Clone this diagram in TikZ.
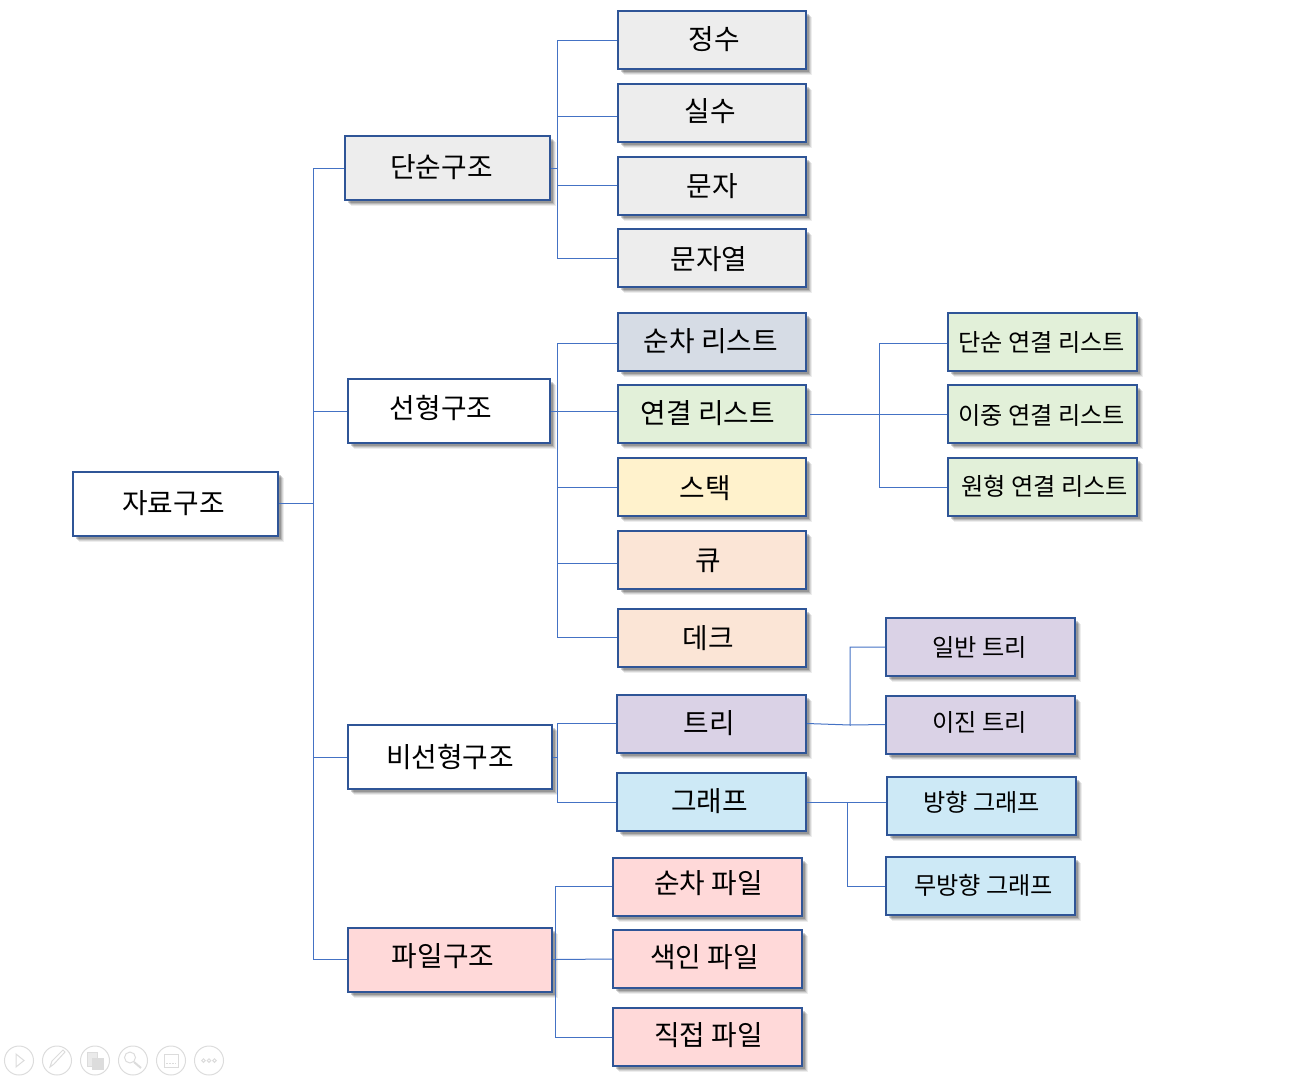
\documentclass[tikz,border=0pt]{standalone}
\usepackage{fontspec}
\setmainfont{Noto Sans CJK KR}
\usetikzlibrary{shadows}
\definecolor{edgeblue}{HTML}{2F5597}
\definecolor{linkblue}{HTML}{4472C4}
\definecolor{graybox}{HTML}{EDEDED}
\definecolor{slatebox}{HTML}{D6DCE5}
\definecolor{greenbox}{HTML}{E2F0D9}
\definecolor{yellowbox}{HTML}{FFF2CC}
\definecolor{orangebox}{HTML}{FBE5D6}
\definecolor{purplebox}{HTML}{DAD2E6}
\definecolor{skybox}{HTML}{CDE9F6}
\definecolor{pinkbox}{HTML}{FFD9D9}
\definecolor{iconline}{HTML}{DCDCDC}
\begin{document}
\begin{tikzpicture}[
      x=1pt, y=-1pt,
      box/.style={draw=edgeblue, line width=2pt, rectangle, inner sep=0pt,
        drop shadow={shadow xshift=6pt, shadow yshift=-6pt, opacity=0.07, fill=black},
        drop shadow={shadow xshift=5pt, shadow yshift=-5pt, opacity=0.10, fill=black},
        drop shadow={shadow xshift=4pt, shadow yshift=-4pt, opacity=0.14, fill=black},
        drop shadow={shadow xshift=3pt, shadow yshift=-3pt, opacity=0.18, fill=black}},
      topbox/.style={box, minimum width=205pt, minimum height=64pt},
      midbox/.style={box, minimum width=188pt, minimum height=58pt},
      every label/.style={font=\fontsize{27.8}{32}\selectfont, yshift=-1pt},
      smalltext/.style={font=\fontsize{24.2}{28}\selectfont},
      link/.style={draw=linkblue, line width=1pt},
      icon/.style={draw=iconline, line width=1pt},
    ]
      \useasboundingbox (0,0) rectangle (1308,1079);

      % level 1 and 2
      \node[topbox, fill=white, label={[xshift=-2pt, yshift=1pt]center:자료구조}] (jaryo) at (175.5,503.5) {};
      \node[topbox, fill=graybox, label={[xshift=-6pt, yshift=2pt]center:단순구조}] (dansun) at (447.5,168) {};
      \node[topbox, minimum width=202pt, fill=white, label={[xshift=-8pt, yshift=4pt]center:선형구조}] (seonhyeong) at (449,411) {};
      \node[topbox, minimum width=204pt, fill=white, label={[yshift=1pt]center:비선형구조}] (bi) at (450,757) {};
      \node[topbox, minimum width=204pt, fill=pinkbox, label={[xshift=-7pt, yshift=4pt]center:파일구조}] (pail) at (450,959.5) {};

      % simple
      \node[midbox, fill=graybox, label={[xshift=2pt, yshift=2pt]center:정수}] (jeongsu) at (712,40) {};
      \node[midbox, fill=graybox, label={[xshift=-2pt, yshift=3pt]center:실수}] (silsu) at (712,113) {};
      \node[midbox, fill=graybox, label={center:문자}] (munja) at (712,185.5) {};
      \node[midbox, fill=graybox, label={[xshift=-3pt]center:문자열}] (munjayeol) at (712,258) {};

      % linear
      \node[midbox, fill=slatebox, label={[xshift=-1pt, yshift=1pt]center:순차 리스트}] (sunchalist) at (712,341.5) {};
      \node[midbox, fill=greenbox, label={[xshift=-4pt, yshift=2pt]center:연결 리스트}] (yeongyeol) at (712,414) {};
      \node[midbox, fill=yellowbox, label={[xshift=-7pt]center:스택}] (stack) at (712,487) {};
      \node[midbox, fill=orangebox, label={[xshift=-4pt]center:큐}] (kyu) at (712,559.5) {};
      \node[midbox, fill=orangebox, label={[xshift=-4pt]center:데크}] (deque) at (712,637.5) {};

      % linked lists
      \node[midbox, minimum width=189pt, fill=greenbox, label={[smalltext, xshift=-1pt]center:단순 연결 리스트}] (danlist) at (1042.5,341.5) {};
      \node[midbox, minimum width=189pt, fill=greenbox, label={[smalltext, xshift=-1pt]center:이중 연결 리스트}] (ijung) at (1042.5,414) {};
      \node[midbox, minimum width=189pt, fill=greenbox, label={[smalltext, xshift=2pt, yshift=2pt]center:원형 연결 리스트}] (wonhyeong) at (1042.5,487) {};

      % non linear
      \node[midbox, minimum width=189pt, fill=purplebox, label={[xshift=-2pt, yshift=1pt]center:트리}] (tree) at (711.5,723.5) {};
      \node[midbox, minimum width=189pt, fill=skybox, label={[xshift=-2pt, yshift=2pt]center:그래프}] (graph) at (711.5,802) {};
      \node[midbox, minimum width=189pt, fill=purplebox, label={[smalltext, xshift=-1pt, yshift=1pt]center:일반 트리}] (ilban) at (980.5,647) {};
      \node[midbox, minimum width=189pt, fill=purplebox, label={[smalltext, xshift=-1pt, yshift=3pt]center:이진 트리}] (ijin) at (980.5,724.5) {};
      \node[midbox, minimum width=189pt, fill=skybox, label={[smalltext, yshift=5pt]center:방향 그래프}] (banghyang) at (981.5,806) {};
      \node[midbox, minimum width=189pt, fill=skybox, label={[smalltext, xshift=3pt, yshift=2pt]center:무방향 그래프}] (mubang) at (980.5,886) {};

      % files
      \node[midbox, minimum width=189pt, fill=pinkbox, label={[xshift=1pt, yshift=4pt]center:순차 파일}] (sunchafile) at (707.5,886.5) {};
      \node[midbox, minimum width=189pt, fill=pinkbox, label={[xshift=-3pt, yshift=3pt]center:색인 파일}] (saegin) at (707.5,959) {};
      \node[midbox, minimum width=189pt, fill=pinkbox, label={[xshift=1pt, yshift=3pt]center:직접 파일}] (jikjeop) at (707.5,1037) {};

      % connectors
      \coordinate (trunkroot) at (313,503.5);
      \coordinate (trunkdan) at (557,168);
      \coordinate (trunkseon) at (557,411);
      \coordinate (trunkbi) at (557,757);
      \coordinate (trunkpail) at (555,959.5);
      \coordinate (trunklist) at (879,414);
      \coordinate (trunktree) at (850,725);
      \coordinate (trunkgraph) at (847,802);
      \coordinate (linkstart) at (810,414);

      \draw[link] (jaryo.east) -- (trunkroot) |- (dansun.west);
      \draw[link] (trunkroot) |- (seonhyeong.west);
      \draw[link] (trunkroot) |- (bi.west);
      \draw[link] (trunkroot) |- (pail.west);

      \draw[link] (dansun.east) -- (trunkdan) |- (jeongsu.west);
      \draw[link] (trunkdan) |- ([yshift=-3pt]silsu.west);
      \draw[link] (trunkdan) |- (munja.west);
      \draw[link] (trunkdan) |- (munjayeol.west);

      \draw[link] (seonhyeong.east) -- (trunkseon) |- ([yshift=-1.5pt]sunchalist.west);
      \draw[link] (trunkseon) -- ([yshift=3pt]yeongyeol.west);
      \draw[link] (trunkseon) |- (stack.west);
      \draw[link] (trunkseon) |- ([yshift=-3.5pt]kyu.west);
      \draw[link] (trunkseon) |- (deque.west);

      \draw[link] (linkstart) -- (trunklist) |- ([yshift=-1.5pt]danlist.west);
      \draw[link] (trunklist) -- (ijung.west);
      \draw[link] (trunklist) |- (wonhyeong.west);

      \draw[link] (bi.east) -- (trunkbi) |- (tree.west);
      \draw[link] (trunkbi) |- (graph.west);

      \draw[link] (tree.east) -- (trunktree) |- (ilban.west);
      \draw[link] (trunktree) -- (ijin.west);
      \draw[link] (graph.east) -- (trunkgraph) -- ([yshift=4pt]banghyang.west);
      \draw[link] (trunkgraph) |- (mubang.west);

      \draw[link] (pail.east) -- (trunkpail) |- (sunchafile.west);
      \draw[link] (trunkpail) -- (saegin.west);
      \draw[link] (trunkpail) |- (jikjeop.west);

      % slide show buttons
      \foreach \px in {19,57,95,133,171,209}
        \draw[icon] (\px,1060.5) circle (14.5);
      \draw[icon] (16,1054) -- (24,1060.5) -- (16,1067) -- cycle;
      \draw[icon] (50,1067) -- (52,1061) -- (63,1050) -- (65,1052) -- (54,1064) -- cycle;
      \draw[icon, fill=iconline!60] (87,1052) rectangle (97,1066);
      \draw[icon, fill=iconline] (92,1058) rectangle (103,1069);
      \draw[icon] (130,1057.5) circle (5.5);
      \draw[icon, line width=2pt] (134,1062) -- (141,1068);
      \draw[icon] (164,1054) rectangle (178,1067);
      \draw[icon, dashed, dash pattern=on 2pt off 1pt] (166,1063) -- (176,1063);
      \foreach \px in {203.5,209,214.5}
        \draw[icon] (\px,1060.5) circle (1.8);
    \end{tikzpicture}
\end{document}
